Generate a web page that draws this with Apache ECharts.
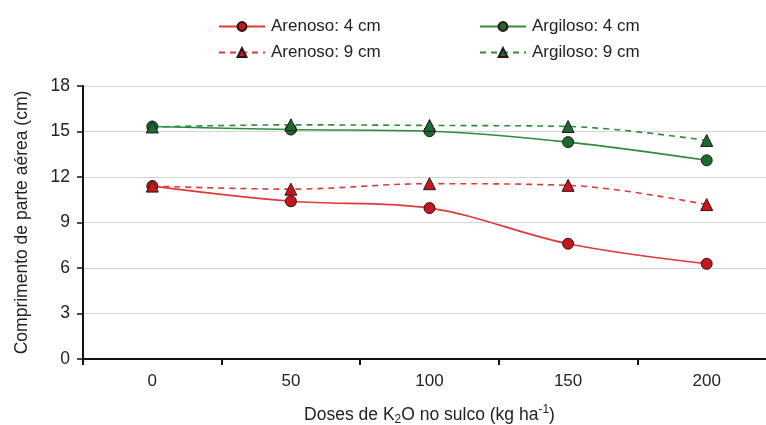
<!DOCTYPE html>
<html>
<head>
<meta charset="utf-8">
<script src="https://cdn.jsdelivr.net/npm/echarts@6/dist/echarts.min.js"></script>
<style>
  html, body { margin: 0; padding: 0; background: #fff; overflow: hidden; }
  #chart { width: 766px; height: 425px; }
</style>
</head>
<body>
<div id="chart"></div>
<script>
// doses de K2O (kg/ha)
var doses = ['0', '50', '100', '150', '200'];
var yTicks = [0, 3, 6, 9, 12, 15, 18];

var arenoso4 = [11.4, 10.4, 9.95, 7.6, 6.28];
var arenoso9 = [11.4, 11.2, 11.56, 11.45, 10.18];
var argiloso4 = [15.33, 15.13, 15.02, 14.3, 13.1];
var argiloso9 = [15.3, 15.44, 15.4, 15.33, 14.41];

var FONT = 'Liberation Sans, Arial, sans-serif';
var RED_LINE = '#e0393a', RED_MK = '#c8161f';
var GREEN_LINE = '#2e8b3e', GREEN_MK = '#176c30';

function mkSeries(name, data, line, fill, dashed, symbol, size) {
    return {
        name: name,
        type: 'line',
        data: data,
        smooth: 0.35,
        symbol: symbol,
        symbolSize: size,
        lineStyle: { color: line, width: 1.6, type: dashed ? [6, 5] : 'solid' },
        itemStyle: { color: fill, borderColor: '#2a1414', borderWidth: 1 }
    };
}

var chart = echarts.init(document.getElementById('chart'));
var legendText = { fontFamily: FONT, fontSize: 17, color: '#222', padding: [0, 0, 0, 1] };
chart.setOption({
    animation: false,
    textStyle: { fontFamily: FONT },
    legend: [
        {
            data: ['Arenoso: 4 cm', 'Arenoso: 9 cm'],
            orient: 'vertical',
            left: 213, top: 13,
            itemGap: 9,
            itemWidth: 46, itemHeight: 11,
            textStyle: legendText
        },
        {
            data: ['Argiloso: 4 cm', 'Argiloso: 9 cm'],
            orient: 'vertical',
            left: 474, top: 13,
            itemGap: 9,
            itemWidth: 46, itemHeight: 11,
            textStyle: legendText
        }
    ],
    grid: { left: 83, right: -10, top: 86, bottom: 66, outerBoundsMode: 'none' },
    xAxis: {
        type: 'category',
        data: doses,
        boundaryGap: true,
        axisLine: { lineStyle: { color: '#111', width: 2 } },
        axisTick: { show: true, length: 6, lineStyle: { color: '#111', width: 2 } },
        axisLabel: { color: '#222', fontSize: 17, margin: 14 },
        name: '{n|Doses de K}{sub|2}{n|O no sulco (kg ha}{sup|-1}{n|)}',
        nameLocation: 'middle',
        nameGap: 45,
        nameTextStyle: {
            rich: {
                n: { fontSize: 17.5, color: '#222', lineHeight: 22, fontFamily: FONT },
                sub: { fontSize: 12, color: '#222', verticalAlign: 'bottom', lineHeight: 22, fontFamily: FONT },
                sup: { fontSize: 12, color: '#222', verticalAlign: 'top', lineHeight: 22, fontFamily: FONT }
            }
        }
    },
    yAxis: {
        type: 'value',
        min: yTicks[0],
        max: yTicks[yTicks.length - 1],
        interval: 3,
        axisLine: { show: true, lineStyle: { color: '#111', width: 2 } },
        axisTick: { show: true, length: 6, lineStyle: { color: '#111', width: 1.5 } },
        axisLabel: { color: '#222', fontSize: 17.5, margin: 13 },
        splitLine: { lineStyle: { color: '#d4d4d4', width: 1.2 } },
        name: 'Comprimento de parte aérea (cm)',
        nameLocation: 'middle',
        nameGap: 52,
        nameTextStyle: { fontSize: 17.5, color: '#222' }
    },
    series: [
        mkSeries('Arenoso: 4 cm', arenoso4, RED_LINE, RED_MK, false, 'circle', 11),
        mkSeries('Argiloso: 4 cm', argiloso4, GREEN_LINE, GREEN_MK, false, 'circle', 11),
        mkSeries('Arenoso: 9 cm', arenoso9, RED_LINE, RED_MK, true, 'triangle', 12),
        mkSeries('Argiloso: 9 cm', argiloso9, GREEN_LINE, GREEN_MK, true, 'triangle', 12)
    ]
});
</script>
</body>
</html>
